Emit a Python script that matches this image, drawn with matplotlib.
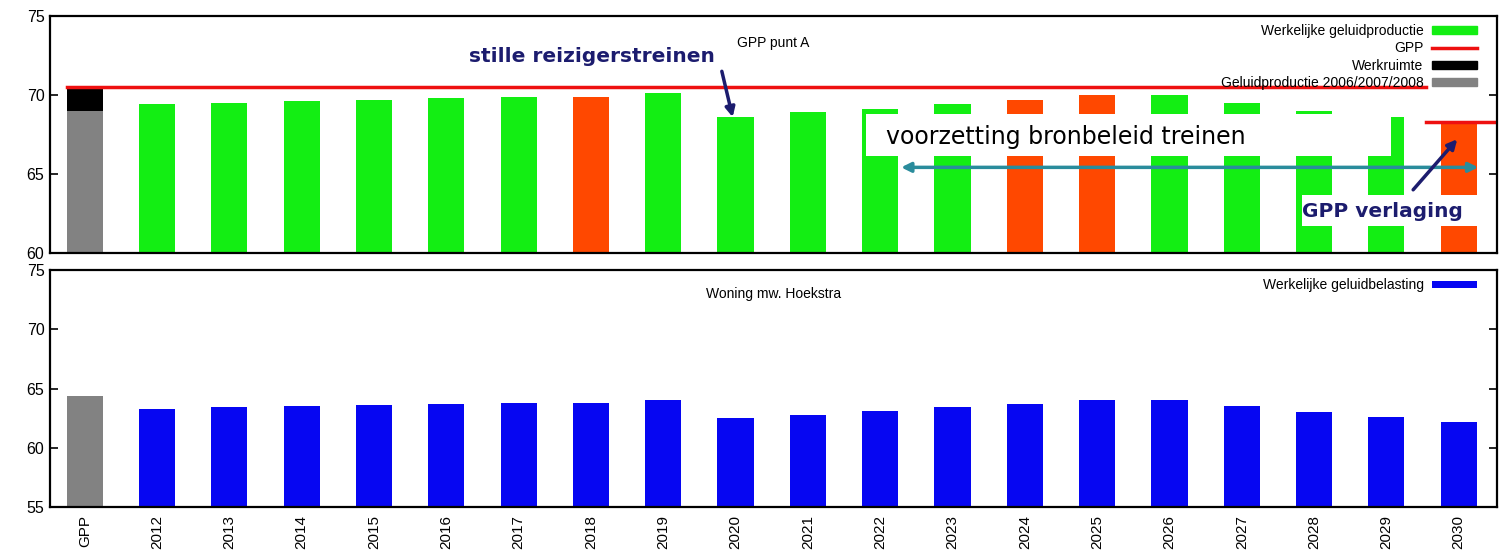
import matplotlib
matplotlib.use('Agg')
import matplotlib.pyplot as plt
from matplotlib.patches import Patch, Rectangle
from matplotlib.lines import Line2D

plt.rcParams['font.family'] = ['Liberation Sans', 'DejaVu Sans']

# categories
labels = ['GPP', '2012', '2013', '2014', '2015', '2016', '2017', '2018', '2019', '2020',
          '2021', '2022', '2023', '2024', '2025', '2026', '2027', '2028', '2029', '2030']

# top panel: geluidproductie punt A (GPP bar handled separately)
production = [69.4, 69.5, 69.6, 69.7, 69.8, 69.9, 69.9, 70.1, 68.6,
              68.9, 69.1, 69.4, 69.7, 70.0, 70.0, 69.5, 69.0, 68.6, 68.3]
orange_years = ['2018', '2024', '2025', '2030']
gpp_reference = 69.0    # Geluidproductie 2006/2007/2008
gpp_value = 70.5        # GPP (reference + werkruimte)
gpp_lowered = 68.3      # GPP after verlaging

# bottom panel: woning mw. Hoekstra
load_gpp = 64.4
load_years = [63.3, 63.4, 63.5, 63.6, 63.7, 63.8, 63.8, 64.0, 62.5,
              62.8, 63.1, 63.4, 63.7, 64.0, 64.0, 63.5, 63.0, 62.6, 62.2]

GREEN = '#13ee13'
ORANGE = '#ff4800'
BLUE = '#0606f2'
GREY = '#828282'
RED = '#ee1010'
NAVY = '#1c1c6e'
TEAL = '#2a8c9c'

fig = plt.figure(figsize=(15.12, 5.56), dpi=100)
ax1 = fig.add_axes([0.0331, 0.545, 0.957, 0.4262])
ax2 = fig.add_axes([0.0331, 0.0881, 0.957, 0.4263])

x = list(range(len(labels)))
w = 0.5

# ---- top panel
ax1.bar(0, gpp_reference - 60, bottom=60, width=w, color=GREY)
ax1.bar(0, gpp_value - gpp_reference, bottom=gpp_reference, width=w, color='black')
bar_colors = [ORANGE if lab in orange_years else GREEN for lab in labels[1:]]
ax1.bar(x[1:], [v - 60 for v in production], bottom=60, width=w, color=bar_colors)
ax1.plot([-0.25, 18.55], [gpp_value, gpp_value], color=RED, lw=2.5)
ax1.plot([18.55, 19.53], [gpp_lowered, gpp_lowered], color=RED, lw=2.5)

ax1.set_ylim(60, 75)
ax1.set_yticks([60, 65, 70, 75])
ax1.text(0.5, 0.885, 'GPP punt A', transform=ax1.transAxes, ha='center', va='center', fontsize=10)

# annotations
ax1.add_patch(Rectangle((10.8, 66.12), 7.26, 2.68, facecolor='white', edgecolor='none', zorder=3))
t = ax1.text(11.08, 67.37, 'voorzetting bronbeleid treinen', fontsize=17, color='black',
             family=['DejaVu Sans'], va='center', ha='left', zorder=4)
# the descenders are cut off in the original slide
clip = Rectangle((10.8, 66.75), 7.26, 2.1, transform=ax1.transData)
t.set_clip_path(clip)
ax1.annotate('', xy=(19.27, 65.42), xytext=(11.29, 65.42), zorder=5,
             arrowprops=dict(arrowstyle='<|-|>', color=TEAL, lw=2.5, mutation_scale=14,
                             shrinkA=0, shrinkB=0))
ax1.add_patch(Rectangle((16.83, 61.7), 2.42, 1.95, facecolor='white', edgecolor='none', zorder=3))
ax1.text(17.95, 62.65, 'GPP verlaging', fontsize=14.5, color=NAVY, weight='bold',
         family=['DejaVu Sans'], va='center', ha='center', zorder=4)
ax1.annotate('', xy=(18.98, 67.2), xytext=(18.37, 64.0), zorder=5,
             arrowprops=dict(arrowstyle='-|>', color=NAVY, lw=2.5, mutation_scale=14,
                             shrinkA=0, shrinkB=0))
ax1.text(7.02, 72.45, 'stille reizigerstreinen', fontsize=14.5, color=NAVY, weight='bold',
         family=['DejaVu Sans'], va='center', ha='center', zorder=4)
ax1.annotate('', xy=(8.96, 68.6), xytext=(8.81, 71.5), zorder=5,
             arrowprops=dict(arrowstyle='-|>', color=NAVY, lw=2.5, mutation_scale=14,
                             shrinkA=0, shrinkB=0))

handles1 = [Patch(color=GREEN), Line2D([], [], color=RED, lw=2.5),
            Patch(color='black'), Patch(color=GREY)]
names1 = ['Werkelijke geluidproductie', 'GPP', 'Werkruimte', 'Geluidproductie 2006/2007/2008']
ax1.legend(handles1, names1, loc='upper right', bbox_to_anchor=(0.990, 0.991), frameon=False,
           markerfirst=False, fontsize=10, handlelength=3.25, handleheight=0.5,
           labelspacing=0.25, borderaxespad=0.0, handletextpad=0.6)

# ---- bottom panel
ax2.bar(0, load_gpp - 55, bottom=55, width=w, color=GREY)
ax2.bar(x[1:], [v - 55 for v in load_years], bottom=55, width=w, color=BLUE,
        label='Werkelijke geluidbelasting')
ax2.set_ylim(55, 75)
ax2.set_yticks([55, 60, 65, 70, 75])
ax2.text(0.5, 0.9, 'Woning mw. Hoekstra', transform=ax2.transAxes, ha='center', va='center', fontsize=10)
ax2.legend(loc='upper right', bbox_to_anchor=(0.990, 0.988), frameon=False, markerfirst=False,
           fontsize=10, handlelength=3.25, handleheight=0.5, borderaxespad=0.0,
           handletextpad=0.6)

for ax in (ax1, ax2):
    ax.set_xlim(-0.48, 19.53)
    for s in ax.spines.values():
        s.set_linewidth(1.6)
    ax.tick_params(axis='y', direction='in', right=True, length=6, width=1.2,
                   labelsize=11.5, pad=4)
    ax.tick_params(axis='x', length=0)

ax1.set_xticks([])
ax2.set_xticks(x)
ax2.set_xticklabels(labels, rotation=90, fontsize=11, va='top', ha='center')
ax2.tick_params(axis='x', pad=6)

fig.savefig('out.png', dpi=100)
